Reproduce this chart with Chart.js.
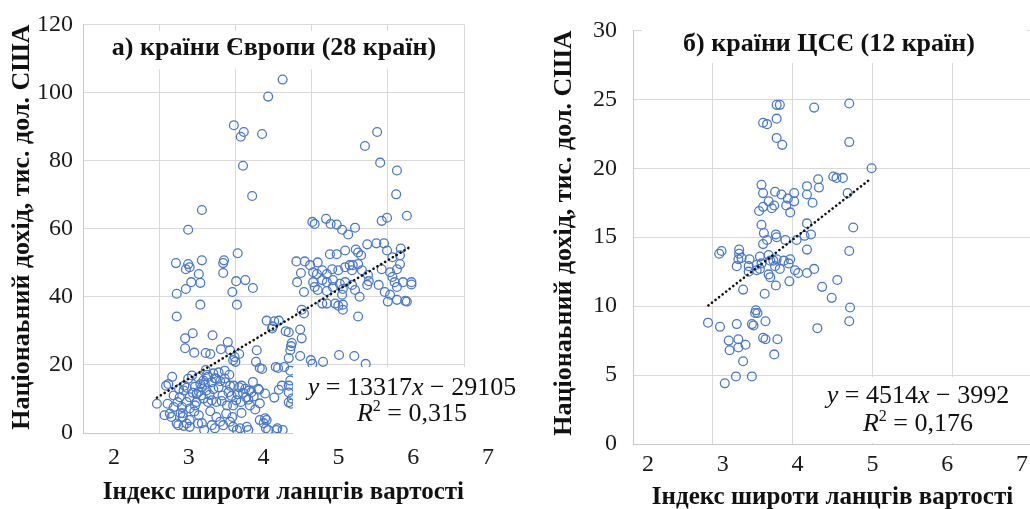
<!DOCTYPE html>
<html><head><meta charset="utf-8">
<script src="https://cdn.jsdelivr.net/npm/chart.js@4/dist/chart.umd.min.js"></script>
<style>
html,body{margin:0;padding:0;background:#fff;overflow:hidden;width:1030px;height:509px;position:relative;}
canvas{position:absolute;top:0;}
#c1{left:0;} #c2{left:520px;}
</style></head><body>
<canvas id="c1" width="520" height="509"></canvas>
<canvas id="c2" width="520" height="509"></canvas>
<script>
// ---------- DATA ----------
const europeTitle = 'а) країни Європи (28 країн)';
const ceeTitle = 'б) країни ЦСЄ (12 країн)';
const yAxisTitle = 'Націонаьний дохід, тис. дол. США';
const xAxisTitle = 'Індекс широти ланцгів вартості';
const europeEquation = ['y = 13317x − 29105', 'R² = 0,315'];
const ceeEquation = ['y = 4514x − 3992', 'R² = 0,176'];

const europeIndex = [
4.62,4.43,3.98,4.11,4.07,4.35,4.10,4.22,3.56,3.38,5.86,5.70,5.90,6.12,6.11,6.25,5.92,5.99,5.01,5.04,5.19,5.25,5.33,5.40,5.57,5.48,
3.22,3.38,3.35,3.40,3.56,3.52,3.42,3.54,3.35,3.23,3.54,3.23,3.85,3.84,3.84,4.03,4.01,4.13,4.23,3.96,4.02,
3.44,3.34,3.34,3.70,3.90,3.81,3.93,3.61,3.67,4.05,3.97,4.00,4.28,4.27,4.32,4.35,4.41,4.51,4.57,4.49,4.66,4.70,4.74,4.73,4.72,4.70,
4.53,4.56,4.64,4.72,4.70,4.70,4.74,4.57,4.51,4.39,4.41,4.37,4.40,4.55,4.62,4.30,4.32,4.48,3.99,3.46,4.72,4.70,
5.73,5.85,5.95,5.99,6.17,6.16,6.06,5.24,5.33,5.44,5.58,5.61,5.65,4.80,4.91,4.98,5.08,4.86,4.81,4.90,5.02,5.07,5.14,5.20,5.27,5.35,
5.44,5.50,5.54,5.61,5.53,5.66,5.02,5.14,5.20,5.28,5.37,5.44,5.08,5.20,5.28,5.41,5.53,5.57,5.40,5.14,5.31,5.35,5.41,5.63,5.61,5.74,
5.73,5.88,5.75,5.92,6.03,6.06,6.09,6.12,6.12,6.16,5.96,6.03,6.00,6.12,6.23,6.20,6.31,6.31,6.25,4.87,4.90,5.04,5.20,5.41,5.36,5.56,
5.71,4.99,5.01,5.15,4.85,4.85,4.87,4.61,4.73,4.26,4.32,4.39,4.43,4.54,
3.61,3.63,3.71,3.73,3.78,3.86,3.92,3.87,3.93,3.98,4.05,4.08,4.13,4.23,4.18,4.14,4.24,4.31,4.08,3.96,3.88,3.80,3.73,3.59,3.69,3.51,
3.40,3.36,3.23,3.16,3.14,3.19,3.30,3.31,3.24,3.11,2.97,3.09,3.12,3.36,3.40,3.47,3.49,3.64,3.69,3.75,3.82,3.89,3.97,4.01,4.07,4.17,
4.19,3.27,3.40,3.32,3.47,3.56,3.33,3.62,3.69,3.75,3.80,3.78,3.64,3.54,3.58,3.49,3.58,3.51,3.19,3.07,3.25,3.32,3.40,3.75,3.84,3.93,
3.97,4.02,4.06,4.15,4.17,3.31,3.36,3.52,3.56,
3.44,3.52,3.66,3.83,3.91,4.03,3.26,3.43,3.60,3.71,3.86,4.10,3.17,3.38,3.55,3.95,4.21,3.28,3.46,3.67
];
const europeIncome = [
103.8,98.8,90.4,88.4,87.0,87.8,78.5,69.6,65.5,59.7,88.4,84.3,79.4,77.1,70.1,63.8,62.3,63.2,62.0,61.4,62.9,61.4,61.2,59.7,60.3,58.3,
49.9,49.6,48.1,48.7,50.7,46.7,44.3,44.1,42.3,40.9,37.7,34.2,50.7,49.9,47.0,52.8,44.6,44.9,42.6,41.4,37.7,
29.3,27.8,24.9,28.7,26.7,24.6,24.3,23.5,23.2,23.2,21.4,20.9,24.3,20.9,19.1,18.8,33.0,32.8,33.0,31.3,29.9,29.6,26.4,25.5,24.3,22.0,
19.4,19.1,19.4,18.3,13.9,9.0,10.1,12.7,10.4,11.6,3.8,2.9,1.4,1.4,0.9,13.0,8.7,30.7,22.3,23.6,15.4,11.9,
55.4,55.7,55.7,53.6,54.2,52.2,51.6,52.5,52.5,53.6,53.9,53.0,52.2,50.4,50.4,49.3,50.1,47.0,44.3,41.4,47.2,46.7,47.8,46.7,48.1,47.8,
48.7,49.3,49.3,49.6,47.8,47.8,44.3,44.9,44.3,44.9,43.8,44.3,42.0,41.7,42.9,42.3,43.5,42.0,40.6,38.0,38.0,37.4,37.7,40.0,34.2,46.4,
43.5,43.5,44.6,48.1,47.2,45.8,44.3,42.9,48.1,49.6,41.4,40.6,38.6,39.1,38.8,44.3,44.3,43.6,38.6,36.2,35.1,42.9,38.0,36.2,22.9,22.6,
20.3,21.4,20.3,20.9,22.6,30.4,27.8,13.9,8.6,6.9,3.8,4.3,0.9,0.9,
18.5,17.1,17.5,16.1,17.8,18.3,17.1,14.9,13.9,13.9,13.4,13.9,13.0,15.0,12.5,10.5,10.7,12.7,5.9,4.7,5.7,3.3,1.4,0.9,2.3,2.8,
3.8,2.8,2.8,4.7,5.7,7.6,7.6,4.7,9.1,8.6,8.6,13.9,14.4,9.1,7.2,8.1,9.1,9.1,9.6,9.1,9.4,8.1,8.1,9.6,9.1,9.8,
8.1,10.5,10.5,12.5,13.6,13.4,13.9,12.5,14.9,15.9,15.2,13.4,16.5,14.4,15.4,11.5,10.1,16.3,11.0,5.2,2.3,2.1,1.8,4.7,2.3,3.3,
1.8,0.9,1.4,1.8,0.9,5.8,13.3,5.2,2.9,
11.8,12.1,11.2,11.0,12.0,11.4,12.9,16.9,14.2,12.9,16.0,11.8,16.5,15.9,11.0,10.9,12.0,5.8,6.3,6.4
];
const europeTrendX = [2.97, 6.29];
const europeTrendY = [10.4, 54.6];

const ceeIndex = [
3.80,3.84,4.27,4.71,3.63,3.68,3.80,3.80,3.87,4.71,4.99,4.51,4.55,4.63,4.32,4.33,4.18,4.18,4.25,4.69,
3.61,3.63,3.78,3.86,3.94,4.02,4.02,3.70,3.77,3.63,3.58,3.74,3.92,3.97,3.61,4.18,4.23,4.15,3.64,3.68,
3.63,3.79,3.80,3.91,4.05,4.76,4.71,4.18,3.08,3.11,3.33,3.33,3.32,3.36,3.46,3.59,3.70,3.72,3.30,3.45,
3.45,3.55,3.61,3.59,3.55,3.76,3.80,3.78,3.84,3.89,3.95,3.97,3.70,3.72,4.03,4.07,4.18,4.27,3.79,3.96,
3.38,3.65,4.37,4.56,4.49,4.72,4.71,4.31,2.94,3.09,3.30,3.49,3.51,3.54,3.56,3.53,3.66,3.63,3.66,3.81,
3.77,3.20,3.32,3.41,3.21,3.32,3.38,3.29,3.49,3.15
];
const ceeIncome = [
24.6,24.6,24.4,24.7,23.3,23.2,23.6,22.2,21.7,21.9,20.0,19.4,19.3,19.3,19.2,18.6,18.7,18.1,17.5,18.2,
18.8,18.2,18.3,18.1,17.8,18.2,17.6,17.6,17.3,17.2,16.9,17.1,17.3,16.8,15.9,16.0,15.2,15.1,15.3,14.8,
14.5,15.2,15.0,14.8,14.8,15.7,14.0,14.1,13.8,14.0,14.1,13.8,13.4,13.5,13.4,13.6,13.7,13.3,12.9,12.9,
12.5,13.0,13.1,12.7,12.6,13.3,13.4,12.9,12.7,13.3,13.1,13.4,12.3,12.1,12.6,12.4,12.4,12.7,11.5,11.8,
11.2,10.9,11.4,11.9,10.6,9.9,8.9,8.4,8.8,8.5,8.7,8.7,8.6,9.7,9.5,9.5,8.9,7.7,7.6,7.6,
6.5,7.5,7.6,7.2,6.8,7.0,6.0,4.9,4.9,4.4
];
const ceeTrendX = [2.945, 4.97];
const ceeTrendY = [10.05, 19.2];

// ---------- STYLE ----------
const SERIF = '"Liberation Serif", "Times New Roman", serif';
const POINT_COLOR = '#4a78c8';
const GRID = '#d9d9d9';

function toPts(xs, ys){ return xs.map((x,i)=>({x:x, y:ys[i]})); }

function drawMath(ctx, str, cx, cy, size){
  const parts = [];
  for (const ch of str){
    const t = /[A-Za-z]/.test(ch) ? 'i' : (ch === '²' ? 's' : 'n');
    parts.push([t === 's' ? '2' : ch, t]);
  }
  const fontFor = t => t === 'i' ? `italic ${size}px ${SERIF}` : (t === 's' ? `${Math.round(size*0.62)}px ${SERIF}` : `${size}px ${SERIF}`);
  let w = 0;
  for (const [c,t] of parts){ ctx.font = fontFor(t); w += ctx.measureText(c).width; }
  let x = cx - w/2;
  ctx.textAlign = 'left'; ctx.textBaseline = 'alphabetic';
  const base = cy + size*0.32;
  for (const [c,t] of parts){
    ctx.font = fontFor(t);
    ctx.fillText(c, x, t === 's' ? base - size*0.38 : base);
    x += ctx.measureText(c).width;
  }
}

const decor = {
  id: 'decor',
  beforeDatasetsDraw(chart, args, o){
    const ctx = chart.ctx; ctx.save();
    ctx.fillStyle = '#fff';
    ctx.fillRect(o.titleBox[0], o.titleBox[1], o.titleBox[2], o.titleBox[3]);
    ctx.fillStyle = '#111';
    ctx.font = `bold ${o.titleSize}px ${SERIF}`;
    ctx.textAlign = 'center'; ctx.textBaseline = 'middle';
    ctx.fillText(o.title, o.titleX, o.titleY);
    ctx.restore();
  },
  afterDatasetsDraw(chart, args, o){
    const ctx = chart.ctx; ctx.save();
    ctx.fillStyle = '#fff';
    ctx.fillRect(o.eqBox[0], o.eqBox[1], o.eqBox[2], o.eqBox[3]);
    ctx.fillStyle = '#111';
    drawMath(ctx, o.eq[0], o.eqX, o.eqY1, o.eqSize);
    drawMath(ctx, o.eq[1], o.eqX, o.eqY2, o.eqSize);
    ctx.restore();
  }
};

function makeChart(id, cfg){
  return new Chart(document.getElementById(id), {
    type: 'scatter',
    data: {
      datasets: [
        {
          type: 'line',
          data: toPts(cfg.trendX, cfg.trendY),
          borderColor: '#111',
          borderWidth: 2.6,
          borderDash: [0.1, 4.4],
          borderCapStyle: 'round',
          pointRadius: 0,
          fill: false,
          order: 0
        },
        {
          data: toPts(cfg.xs, cfg.ys),
          pointRadius: 4.4,
          pointHoverRadius: 4.4,
          pointBorderWidth: 1.3,
          pointBorderColor: POINT_COLOR,
          pointBackgroundColor: 'rgba(255,255,255,0)',
          order: 1
        }
      ]
    },
    options: {
      responsive: false,
      animation: false,
      events: [],
      layout: { padding: cfg.padding },
      plugins: {
        legend: { display: false },
        tooltip: { enabled: false },
        decor: cfg.decor
      },
      scales: {
        x: {
          type: 'linear', position: 'bottom', min: 2, max: 7, weight: 0,
          ticks: { display: false, stepSize: 1 },
          grid: { color: GRID, lineWidth: 1, drawTicks: false },
          border: { display: true, color: '#c8c8c8', width: 1 },
          afterFit: s => { s.height = 0; }
        },
        x2: {
          type: 'linear', position: 'bottom', min: 2, max: cfg.x2Max, weight: 1,
          grid: { display: false, drawTicks: false },
          border: { display: false },
          ticks: {
            stepSize: 1, includeBounds: false, autoSkip: false,
            labelOffset: cfg.labelOffset, padding: cfg.xTickPad,
            color: '#1a1a1a', font: { family: SERIF, size: 24 }
          },
          title: {
            display: true, text: xAxisTitle, align: cfg.xTitleAlign,
            color: '#111', font: { family: SERIF, size: 25, weight: 'bold', lineHeight: 1 },
            padding: { top: 0, bottom: cfg.xTitlePad }
          },
          afterFit: s => { s.height = cfg.xAxisH; }
        },
        y: {
          type: 'linear', min: 0, max: cfg.yMax,
          ticks: { stepSize: cfg.yStep, padding: cfg.yTickPad, color: '#1a1a1a', font: { family: SERIF, size: 24 } },
          grid: { color: GRID, lineWidth: 1, drawTicks: false },
          border: { display: true, color: '#c8c8c8', width: 1 },
          title: {
            display: true, text: yAxisTitle, align: 'end',
            color: '#111', font: { family: SERIF, size: 26, weight: 'bold', lineHeight: 1 },
            padding: { top: cfg.yTitlePad, bottom: 0 }
          },
          afterFit: s => { s.width = cfg.yAxisW; }
        }
      }
    },
    plugins: [decor]
  });
}

makeChart('c1', {
  xs: europeIndex, ys: europeIncome, trendX: europeTrendX, trendY: europeTrendY,
  padding: { left: 0, top: 19, right: 56, bottom: 0 },
  yAxisW: 83, xAxisH: 76, yMax: 120, yStep: 20, yTickPad: 10, yTitlePad: 9,
  x2Max: 2 + 381/74.8, labelOffset: 31, xTickPad: 10, xTitleAlign: 'end', xTitlePad: 4,
  decor: {
    title: europeTitle, titleSize: 26, titleBox: [105, 31, 340, 38], titleX: 274, titleY: 48,
    eq: europeEquation, eqSize: 26, eqBox: [293, 367, 227, 80], eqX: 412, eqY1: 387, eqY2: 413
  }
});

makeChart('c2', {
  xs: ceeIndex, ys: ceeIncome, trendX: ceeTrendX, trendY: ceeTrendY,
  padding: { left: 0, top: 15, right: 8, bottom: 0 },
  yAxisW: 113, xAxisH: 65, yMax: 30, yStep: 5, yTickPad: 16, yTitlePad: 31,
  x2Max: 2 + 399/74.8, labelOffset: 15, xTickPad: 6, xTitleAlign: 'center', xTitlePad: -1,
  decor: {
    title: ceeTitle, titleSize: 26, titleBox: [122, 25, 385, 38], titleX: 309, titleY: 44,
    eq: ceeEquation, eqSize: 26, eqBox: [275, 377, 245, 66], eqX: 398, eqY1: 395, eqY2: 423
  }
});
</script>
</body></html>
